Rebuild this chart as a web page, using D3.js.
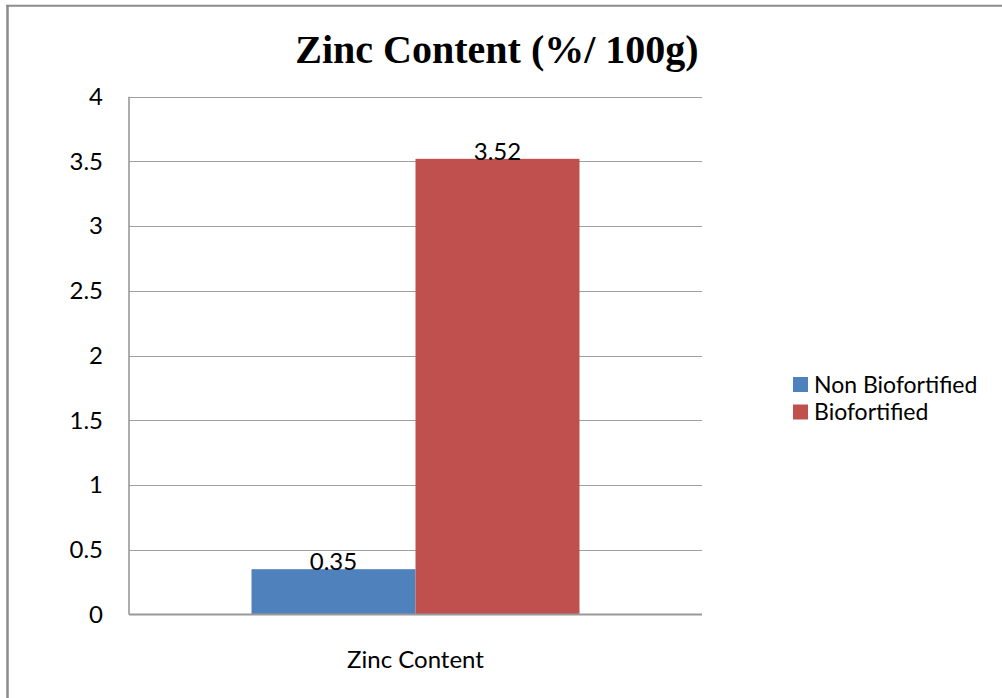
<!DOCTYPE html>
<html>
<head>
<meta charset="utf-8">
<script src="https://cdn.jsdelivr.net/npm/d3@7"></script>
<style>
  html, body { margin: 0; padding: 0; background: #fff; }
  svg { display: block; }
</style>
</head>
<body>
<svg id="chart" width="1002" height="698"></svg>
<script>
// Chart data
const categories = ["Zinc Content"];
const seriesNames = ["Non Biofortified", "Biofortified"];
const seriesValues = [[0.35], [3.52]];
const seriesColors = ["#4F81BD", "#C0504D"];
const yTicks = [0, 0.5, 1, 1.5, 2, 2.5, 3, 3.5, 4];
const yTickLabels = ["0", "0.5", "1", "1.5", "2", "2.5", "3", "3.5", "4"];
const titleText = "Zinc Content (%/ 100g)";

const svg = d3.select("#chart");
const W = 1002, H = 698;
const plot = { left: 129, right: 702, top: 96.7, bottom: 614.5 };
const sans = "Lato, 'Open Sans', sans-serif";
const fontSize = 24;

// Frame around the chart area
svg.append("line").attr("x1", 7.5).attr("x2", 7.5).attr("y1", 5).attr("y2", H)
  .attr("stroke", "#8c8c8c").attr("stroke-width", 2.5);
svg.append("line").attr("x1", 6).attr("x2", W).attr("y1", 5.8).attr("y2", 5.8)
  .attr("stroke", "#8c8c8c").attr("stroke-width", 2);

// Scales
const y = d3.scaleLinear().domain([0, 4]).range([plot.bottom, plot.top]);
const x0 = d3.scaleBand().domain(categories).range([plot.left, plot.right])
  .paddingInner(0).paddingOuter(0.3735);
const x1 = d3.scaleBand().domain(seriesNames).range([0, x0.bandwidth()]).padding(0);

// Gridlines
svg.append("g").selectAll("line").data(yTicks.filter(d => d > 0)).join("line")
  .attr("x1", plot.left).attr("x2", plot.right)
  .attr("y1", d => Math.round(y(d)) + 0.5).attr("y2", d => Math.round(y(d)) + 0.5)
  .attr("stroke", "#a0a0a0").attr("stroke-width", 1.2);

// Y axis tick labels
const yAxis = d3.axisLeft(y).tickValues(yTicks)
  .tickFormat((d, i) => yTickLabels[i]).tickSize(0).tickPadding(26);
const gy = svg.append("g").attr("transform", `translate(${plot.left},0)`).call(yAxis);
gy.select(".domain").remove();
gy.selectAll("text").attr("font-family", sans)
  .attr("font-size", fontSize).attr("fill", "#000");

// Bars with value labels
const groups = svg.append("g").selectAll("g").data(categories).join("g")
  .attr("transform", c => `translate(${x0(c)},0)`);
seriesNames.forEach((name, si) => {
  groups.append("rect")
    .attr("x", x1(name))
    .attr("width", x1.bandwidth())
    .attr("y", (c, ci) => y(seriesValues[si][ci]))
    .attr("height", (c, ci) => y(0) - y(seriesValues[si][ci]))
    .attr("fill", seriesColors[si]);
  groups.append("text")
    .attr("x", x1(name) + x1.bandwidth() / 2)
    .attr("y", (c, ci) => y(seriesValues[si][ci]) + 1)
    .attr("text-anchor", "middle")
    .attr("font-family", sans)
    .attr("font-size", fontSize).attr("fill", "#000")
    .text((c, ci) => seriesValues[si][ci].toFixed(2));
});

// Axis lines
svg.append("line").attr("x1", plot.left).attr("x2", plot.left)
  .attr("y1", plot.top).attr("y2", plot.bottom)
  .attr("stroke", "#999").attr("stroke-width", 1.6);
svg.append("line").attr("x1", plot.left).attr("x2", plot.right)
  .attr("y1", plot.bottom).attr("y2", plot.bottom)
  .attr("stroke", "#999").attr("stroke-width", 1.8);

// Category axis label
const xAxis = d3.axisBottom(x0).tickSize(0).tickPadding(36);
const gx = svg.append("g").attr("transform", `translate(0,${plot.bottom})`).call(xAxis);
gx.select(".domain").remove();
gx.selectAll("text").attr("font-family", sans)
  .attr("font-size", fontSize).attr("fill", "#000");

// Title
svg.append("text").attr("x", 497).attr("y", 63).attr("text-anchor", "middle")
  .attr("font-family", "'Liberation Serif', 'Times New Roman', serif")
  .attr("font-weight", "bold").attr("font-size", 40).attr("fill", "#000")
  .text(titleText);

// Legend
const legend = svg.append("g");
const legendY = [384.5, 412];
seriesNames.forEach((name, i) => {
  legend.append("rect").attr("x", 793).attr("y", legendY[i] - 7.5)
    .attr("width", 15).attr("height", 15).attr("fill", seriesColors[i]);
  legend.append("text").attr("x", 814).attr("y", legendY[i])
    .attr("dy", "0.35em")
    .attr("font-family", sans)
    .attr("font-size", 23).attr("fill", "#000").text(name);
});
</script>
</body>
</html>
